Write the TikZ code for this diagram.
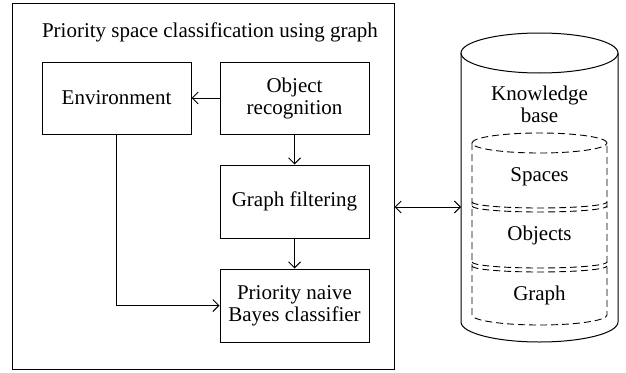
\documentclass[tikz,border=0pt]{standalone}
\usepackage{fontspec}
\setmainfont{Liberation Serif}
\usetikzlibrary{arrows.meta}
\begin{document}
\begin{tikzpicture}[x=1pt,y=1pt,
  line width=1pt,
  >={Straight Barb[length=6pt,width=12pt]},
  box/.style={draw, minimum width=149pt, minimum height=72pt, inner sep=0pt, align=center, font=\fontsize{21}{22}\selectfont},
  lbl/.style={font=\fontsize{21}{22}\selectfont, align=center, inner sep=0pt},
  dsh/.style={dash pattern=on 7pt off 4pt, line width=0.9pt}]
\useasboundingbox (0,0) rectangle (626,-372);
% outer frame
\node[draw, minimum width=382pt, minimum height=366pt, inner sep=0pt] (frame) at (203,-186) {};
\node[lbl, anchor=base] (title) at (210,-37) {Priority space classification using graph};
% boxes
\node[box] (env) at (116.5,-98) {Environment};
\node[box] (obj) at (294.5,-98) {Object\\recognition};
\node[box, minimum height=73pt] (filt) at (294.5,-201.5) {Graph filtering};
\node[box, minimum height=73pt] (prio) at (294.5,-305.5) {Priority naive\\Bayes classifier};
\draw[->] (obj) -- (env);
\draw[->] (obj) -- (filt);
\draw[->] (filt) -- (prio);
\draw[->] (env.south) |- (prio.west);
% knowledge base cylinder
\draw (461,-53) -- (461,-322) arc[start angle=180, end angle=360, x radius=78.5, y radius=20] -- (618,-53);
\draw (539.5,-53) ellipse[x radius=78.5, y radius=20];
\coordinate (kb) at (461,-207);
\node[lbl] (kbt) at (539.5,-104) {Knowledge\\base};
% inner dashed cylinder
\draw[dsh] (539.5,-143) ellipse[x radius=67.5, y radius=10];
\draw[dsh] (472,-143) -- (472,-315) arc[start angle=180, end angle=360, x radius=67.5, y radius=10] -- (607,-143);
\draw[dsh] (472,-202) arc[start angle=180, end angle=360, x radius=67.5, y radius=6];
\draw[dsh] (472,-206) arc[start angle=180, end angle=360, x radius=67.5, y radius=6];
\draw[dsh] (472,-262) arc[start angle=180, end angle=360, x radius=67.5, y radius=6];
\draw[dsh] (472,-266) arc[start angle=180, end angle=360, x radius=67.5, y radius=6];
\node[lbl] (sp) at (539.5,-177) {Spaces};
\node[lbl] (ob) at (539.5,-235) {Objects};
\node[lbl] (gr) at (539.5,-295) {Graph};
% connector
\draw[<->] (kb -| frame.east) -- (kb);
\end{tikzpicture}
\end{document}
